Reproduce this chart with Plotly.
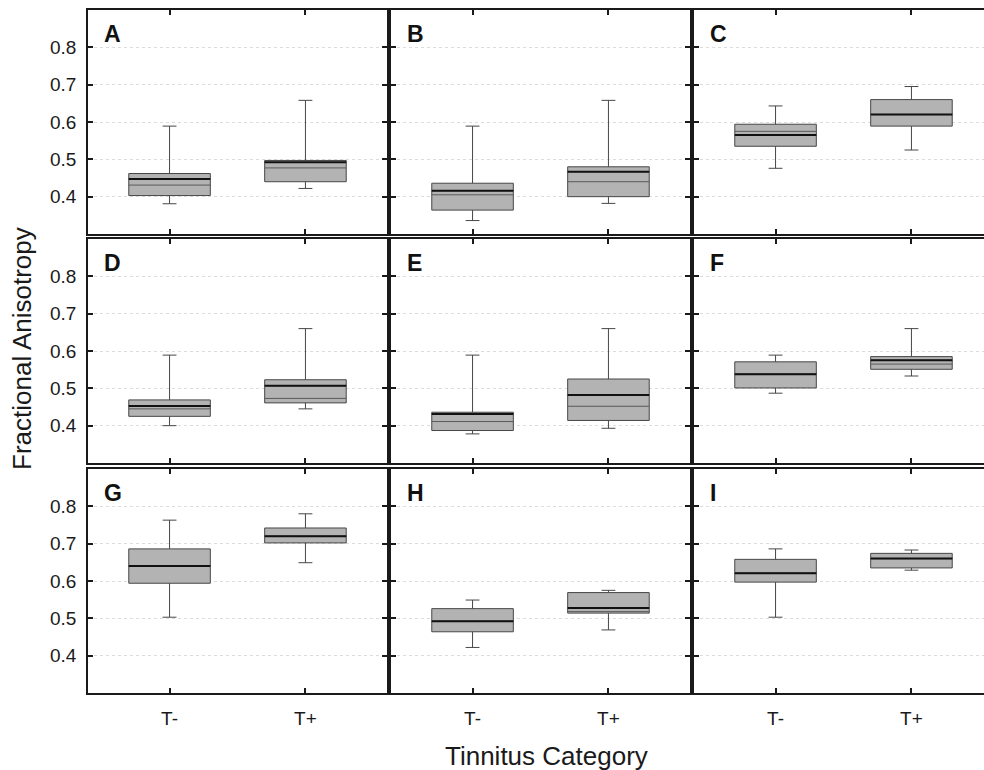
import plotly.graph_objects as go

# ---------------- data ----------------
panels = ["A", "B", "C", "D", "E", "F", "G", "H", "I"]
categories = ["T-", "T+"]
cat_pos = [0, 1]
y_ticks = [0.4, 0.5, 0.6, 0.7, 0.8]
y_tick_labels = ["0.4", "0.5", "0.6", "0.7", "0.8"]

# per panel: [T-, T+]
lower_whisker = {
    "A": [0.381, 0.422], "B": [0.336, 0.382], "C": [0.476, 0.525],
    "D": [0.400, 0.445], "E": [0.378, 0.393], "F": [0.487, 0.533],
    "G": [0.503, 0.649], "H": [0.422, 0.469], "I": [0.503, 0.629],
}
q1 = {
    "A": [0.403, 0.440], "B": [0.364, 0.400], "C": [0.535, 0.589],
    "D": [0.425, 0.461], "E": [0.387, 0.414], "F": [0.501, 0.551],
    "G": [0.594, 0.702], "H": [0.464, 0.514], "I": [0.597, 0.635],
}
median = {
    "A": [0.447, 0.492], "B": [0.416, 0.467], "C": [0.565, 0.620],
    "D": [0.453, 0.507], "E": [0.431, 0.482], "F": [0.538, 0.575],
    "G": [0.640, 0.720], "H": [0.492, 0.528], "I": [0.621, 0.660],
}
mean = {
    "A": [0.431, 0.477], "B": [0.405, 0.440], "C": [0.575, 0.620],
    "D": [0.445, 0.473], "E": [0.411, 0.452], "F": [0.538, 0.565],
    "G": [0.640, 0.720], "H": [0.492, 0.518], "I": [0.621, 0.660],
}
q3 = {
    "A": [0.462, 0.497], "B": [0.436, 0.480], "C": [0.594, 0.660],
    "D": [0.469, 0.523], "E": [0.436, 0.525], "F": [0.571, 0.585],
    "G": [0.686, 0.742], "H": [0.526, 0.569], "I": [0.658, 0.674],
}
upper_whisker = {
    "A": [0.589, 0.658], "B": [0.589, 0.658], "C": [0.643, 0.695],
    "D": [0.589, 0.660], "E": [0.589, 0.660], "F": [0.589, 0.660],
    "G": [0.763, 0.780], "H": [0.549, 0.575], "I": [0.686, 0.683],
}

# ---------------- layout geometry ----------------
W, H = 984, 770
col_px = [(88, 387), (391, 690), (694, 984)]
row_px = [(10, 234), (239, 463), (469, 693)]
BOX_W = 0.6
FONT = "Liberation Sans, Arial, sans-serif"

fig = go.Figure()
layout = dict(
    width=W, height=H, margin=dict(l=0, r=0, t=0, b=0),
    paper_bgcolor="white", plot_bgcolor="white", showlegend=False,
    font=dict(family=FONT, color="#1a1a1a"),
)
annotations = []

for i, p in enumerate(panels):
    r, c = divmod(i, 3)
    n = i + 1
    xa = "x" if n == 1 else f"x{n}"
    ya = "y" if n == 1 else f"y{n}"
    x0, x1 = col_px[c]
    y0, y1 = row_px[r]
    xr = [-0.6, -0.6 + 2.2 * (x1 - x0) / 299.0]

    fig.add_trace(go.Box(
        x=cat_pos, q1=q1[p], median=median[p], q3=q3[p],
        lowerfence=lower_whisker[p], upperfence=upper_whisker[p],
        width=BOX_W, whiskerwidth=0.17,
        fillcolor="#b3b3b3", line=dict(color="#474747", width=1),
        boxpoints=False, xaxis=xa, yaxis=ya, hoverinfo="skip",
    ))
    # mean (thin) line
    mx, my = [], []
    for k, xpos in enumerate(cat_pos):
        mx += [xpos - BOX_W / 2, xpos + BOX_W / 2, None]
        my += [mean[p][k], mean[p][k], None]
    fig.add_trace(go.Scatter(x=mx, y=my, mode="lines",
                             line=dict(color="#5a5a5a", width=1),
                             xaxis=xa, yaxis=ya, hoverinfo="skip"))
    # median (thick) line
    dx, dy = [], []
    for k, xpos in enumerate(cat_pos):
        dx += [xpos - BOX_W / 2, xpos + BOX_W / 2, None]
        dy += [median[p][k], median[p][k], None]
    fig.add_trace(go.Scatter(x=dx, y=dy, mode="lines",
                             line=dict(color="#111111", width=2),
                             xaxis=xa, yaxis=ya, hoverinfo="skip"))

    common = dict(showline=True, linecolor="#1a1a1a", linewidth=1.6,
                  ticks="inside", ticklen=5, tickwidth=1.5, tickcolor="#1a1a1a",
                  zeroline=False, fixedrange=True)
    layout["xaxis" if n == 1 else f"xaxis{n}"] = dict(
        domain=[x0 / W, x1 / W], anchor=ya, range=xr,
        tickvals=cat_pos, ticktext=categories, mirror="ticks",
        showticklabels=(r == 2), showgrid=False,
        tickfont=dict(size=19, family=FONT, color="#1a1a1a"),
        ticklabelstandoff=7, **common)
    layout["yaxis" if n == 1 else f"yaxis{n}"] = dict(
        domain=[1 - y1 / H, 1 - y0 / H], anchor=xa, range=[0.3, 0.9],
        tickvals=y_ticks, ticktext=y_tick_labels,
        mirror=("ticks" if c < 2 else False),
        showticklabels=(c == 0),
        showgrid=True, gridcolor="#dcdcdc", griddash="dot", gridwidth=1,
        tickfont=dict(size=19, family=FONT, color="#1a1a1a"),
        ticklabelstandoff=6, **common)
    annotations.append(dict(
        text=f"<b>{p}</b>", xref=f"{xa} domain", yref=f"{ya} domain",
        x=14 / (x1 - x0), y=1 - 9 / (y1 - y0), xanchor="left", yanchor="top",
        showarrow=False, font=dict(size=23, family=FONT, color="#111111")))

annotations.append(dict(
    text="Fractional Anisotropy", xref="paper", yref="paper",
    x=22 / W, y=1 - 349 / H, xanchor="center", yanchor="middle", textangle=-90,
    showarrow=False, font=dict(size=26, family=FONT, color="#1a1a1a")))
annotations.append(dict(
    text="Tinnitus Category", xref="paper", yref="paper",
    x=546 / W, y=1 - 756 / H, xanchor="center", yanchor="middle",
    showarrow=False, font=dict(size=26, family=FONT, color="#1a1a1a")))

layout["annotations"] = annotations
fig.update_layout(**layout)
fig.write_html(
    "out.html",
    config={"displayModeBar": False},
    post_script="document.body.style.margin='0';document.body.style.overflow='hidden';"
                "document.documentElement.style.overflow='hidden';",
)
